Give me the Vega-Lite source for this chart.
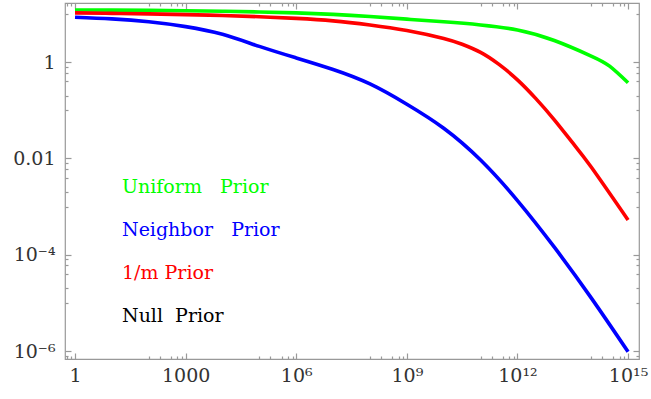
{
  "$schema": "https://vega.github.io/schema/vega-lite/v6.json",
  "width": 574,
  "height": 356,
  "autosize": {"type": "none"},
  "padding": {"left": 65, "top": 3, "right": 12, "bottom": 40},
  "background": "white",
  "config": {
    "view": {"stroke": "#999999", "strokeWidth": 1.2},
    "axis": {
      "grid": false,
      "domain": false,
      "title": null,
      "labelFont": "DejaVu Serif",
      "labelFontSize": 19,
      "labelColor": "#333333",
      "tickColor": "#999999",
      "tickWidth": 1.2,
      "labelFlush": false,
      "labelOverlap": false,
      "labelBound": false
    }
  },
  "data": {
    "values": [
      {"prior": "Uniform Prior", "x": 1, "y": 12.02},
      {"prior": "Uniform Prior", "x": 10, "y": 11.94},
      {"prior": "Uniform Prior", "x": 100, "y": 11.8},
      {"prior": "Uniform Prior", "x": 1000, "y": 11.61},
      {"prior": "Uniform Prior", "x": 1e4, "y": 11.35},
      {"prior": "Uniform Prior", "x": 1e5, "y": 10.96},
      {"prior": "Uniform Prior", "x": 1e6, "y": 10.47},
      {"prior": "Uniform Prior", "x": 1e7, "y": 9.77},
      {"prior": "Uniform Prior", "x": 1e8, "y": 8.81},
      {"prior": "Uniform Prior", "x": 1e9, "y": 7.76},
      {"prior": "Uniform Prior", "x": 1e10, "y": 6.84},
      {"prior": "Uniform Prior", "x": 1e11, "y": 5.89},
      {"prior": "Uniform Prior", "x": 1e12, "y": 4.62},
      {"prior": "Uniform Prior", "x": 1e13, "y": 2.79},
      {"prior": "Uniform Prior", "x": 1e14, "y": 1.33},
      {"prior": "Uniform Prior", "x": 3.16e14, "y": 0.822},
      {"prior": "Uniform Prior", "x": 1e15, "y": 0.372},
      {"prior": "1/m Prior", "x": 1, "y": 10.47},
      {"prior": "1/m Prior", "x": 10, "y": 10.23},
      {"prior": "1/m Prior", "x": 100, "y": 10.0},
      {"prior": "1/m Prior", "x": 1000, "y": 9.66},
      {"prior": "1/m Prior", "x": 1e4, "y": 9.23},
      {"prior": "1/m Prior", "x": 1e5, "y": 8.71},
      {"prior": "1/m Prior", "x": 1e6, "y": 8.04},
      {"prior": "1/m Prior", "x": 1e7, "y": 7.16},
      {"prior": "1/m Prior", "x": 1e8, "y": 5.89},
      {"prior": "1/m Prior", "x": 1e9, "y": 4.52},
      {"prior": "1/m Prior", "x": 1e10, "y": 3.09},
      {"prior": "1/m Prior", "x": 3.16e10, "y": 2.34},
      {"prior": "1/m Prior", "x": 1e11, "y": 1.585},
      {"prior": "1/m Prior", "x": 3.16e11, "y": 0.891},
      {"prior": "1/m Prior", "x": 1e12, "y": 0.427},
      {"prior": "1/m Prior", "x": 3.16e12, "y": 0.174},
      {"prior": "1/m Prior", "x": 1e13, "y": 0.0631},
      {"prior": "1/m Prior", "x": 3.16e13, "y": 0.0209},
      {"prior": "1/m Prior", "x": 1e14, "y": 0.0066},
      {"prior": "1/m Prior", "x": 1e15, "y": 0.000525},
      {"prior": "Neighbor Prior", "x": 1, "y": 8.51},
      {"prior": "Neighbor Prior", "x": 10, "y": 7.85},
      {"prior": "Neighbor Prior", "x": 100, "y": 6.84},
      {"prior": "Neighbor Prior", "x": 1000, "y": 5.43},
      {"prior": "Neighbor Prior", "x": 1e4, "y": 3.76},
      {"prior": "Neighbor Prior", "x": 1e5, "y": 2.11},
      {"prior": "Neighbor Prior", "x": 1e6, "y": 1.216},
      {"prior": "Neighbor Prior", "x": 1e7, "y": 0.7},
      {"prior": "Neighbor Prior", "x": 1e8, "y": 0.351},
      {"prior": "Neighbor Prior", "x": 1e9, "y": 0.133},
      {"prior": "Neighbor Prior", "x": 1e10, "y": 0.0422},
      {"prior": "Neighbor Prior", "x": 1e11, "y": 0.00923},
      {"prior": "Neighbor Prior", "x": 1e12, "y": 0.00133},
      {"prior": "Neighbor Prior", "x": 1e13, "y": 0.000143},
      {"prior": "Neighbor Prior", "x": 1e14, "y": 1.27e-5},
      {"prior": "Neighbor Prior", "x": 1e15, "y": 9.66e-7}
    ]
  },
  "resolve": {"axis": {"x": "independent", "y": "independent"}},
  "layer": [
    {
      "mark": {"type": "line", "strokeWidth": 3.6, "interpolate": "natural"},
      "encoding": {
        "x": {
          "field": "x", "type": "quantitative",
          "scale": {"type": "log", "domain": [0.535, 1.98e15], "nice": false},
          "axis": {
            "orient": "bottom",
            "values": [1, 1000, 1e6, 1e9, 1e12, 1e15],
            "tickSize": -6,
            "labelPadding": 13,
            "labelExpr": "round(log(datum.value)/LN10) == 0 ? '1' : round(log(datum.value)/LN10) == 3 ? '1000' : round(log(datum.value)/LN10) == 6 ? '10⁶' : round(log(datum.value)/LN10) == 9 ? '10⁹' : round(log(datum.value)/LN10) == 12 ? '10¹²' : '10¹⁵'"
          }
        },
        "y": {
          "field": "y", "type": "quantitative",
          "scale": {"type": "log", "domain": [6.83e-7, 16.8], "nice": false},
          "axis": {
            "orient": "left",
            "values": [1, 0.01, 0.0001, 0.000001],
            "tickSize": -6,
            "labelPadding": 16,
            "labelExpr": "round(log(datum.value)/LN10) == 0 ? '1' : round(log(datum.value)/LN10) == -2 ? '0.01' : round(log(datum.value)/LN10) == -4 ? '10⁻⁴' : '10⁻⁶'"
          }
        },
        "color": {
          "field": "prior", "type": "nominal",
          "scale": {
            "domain": ["Uniform Prior", "Neighbor Prior", "1/m Prior", "Null Prior"],
            "range": ["#00ff00", "#0000ff", "#ff0000", "#000000"]
          },
          "legend": {
            "orient": "none",
            "legendX": 38,
            "legendY": 174,
            "title": null,
            "padding": 0,
            "symbolSize": 0,
            "symbolOpacity": 0,
            "symbolStrokeWidth": 0,
            "labelOffset": 0,
            "rowPadding": 23,
            "labelFont": "DejaVu Serif",
            "labelFontSize": 19,
            "labelLimit": 400,
            "labelExpr": "datum.label == '1/m Prior' ? datum.label : datum.label == 'Null Prior' ? replace(datum.label, ' ', '\u00a0\u00a0') : replace(datum.label, ' ', '\u00a0\u00a0\u00a0')",
            "encode": {
              "labels": {"update": {"fill": {"scale": "color", "field": "value"}}}
            }
          }
        }
      }
    },
    {
      "mark": {"type": "point", "opacity": 0},
      "encoding": {
        "x": {
          "field": "x", "type": "quantitative",
          "scale": {"type": "log", "domain": [0.535, 1.98e15], "nice": false},
          "axis": {
            "orient": "bottom",
            "values": [0.6, 0.8, 100, 200, 400, 600, 800, 1e5, 2e5, 4e5, 6e5, 8e5, 1e8, 2e8, 4e8, 6e8, 8e8, 1e11, 2e11, 4e11, 6e11, 8e11, 1e14, 2e14, 4e14, 6e14, 8e14],
            "tickSize": -3,
            "labels": false
          }
        },
        "y": {
          "field": "y", "type": "quantitative",
          "scale": {"type": "log", "domain": [6.83e-7, 16.8], "nice": false},
          "axis": {
            "orient": "left",
            "values": [10, 0.1, 0.2, 0.4, 0.6, 0.8, 0.001, 0.002, 0.004, 0.006, 0.008, 0.00001, 0.00002, 0.00004, 0.00006, 0.00008, 0.0000008],
            "tickSize": -3,
            "labels": false
          }
        }
      }
    },
    {
      "mark": {"type": "point", "opacity": 0},
      "encoding": {
        "x": {
          "field": "x", "type": "quantitative",
          "scale": {"type": "log", "domain": [0.535, 1.98e15], "nice": false},
          "axis": {
            "orient": "top",
            "values": [1, 1000, 1e6, 1e9, 1e12, 1e15],
            "tickSize": -6,
            "labels": false
          }
        },
        "y": {
          "field": "y", "type": "quantitative",
          "scale": {"type": "log", "domain": [6.83e-7, 16.8], "nice": false},
          "axis": {
            "orient": "right",
            "values": [1, 0.01, 0.0001, 0.000001],
            "tickSize": -6,
            "labels": false
          }
        }
      }
    },
    {
      "mark": {"type": "point", "opacity": 0},
      "encoding": {
        "x": {
          "field": "x", "type": "quantitative",
          "scale": {"type": "log", "domain": [0.535, 1.98e15], "nice": false},
          "axis": {
            "orient": "top",
            "values": [0.6, 0.8, 100, 200, 400, 600, 800, 1e5, 2e5, 4e5, 6e5, 8e5, 1e8, 2e8, 4e8, 6e8, 8e8, 1e11, 2e11, 4e11, 6e11, 8e11, 1e14, 2e14, 4e14, 6e14, 8e14],
            "tickSize": -3,
            "labels": false
          }
        },
        "y": {
          "field": "y", "type": "quantitative",
          "scale": {"type": "log", "domain": [6.83e-7, 16.8], "nice": false},
          "axis": {
            "orient": "right",
            "values": [10, 0.1, 0.2, 0.4, 0.6, 0.8, 0.001, 0.002, 0.004, 0.006, 0.008, 0.00001, 0.00002, 0.00004, 0.00006, 0.00008, 0.0000008],
            "tickSize": -3,
            "labels": false
          }
        }
      }
    }
  ]
}
